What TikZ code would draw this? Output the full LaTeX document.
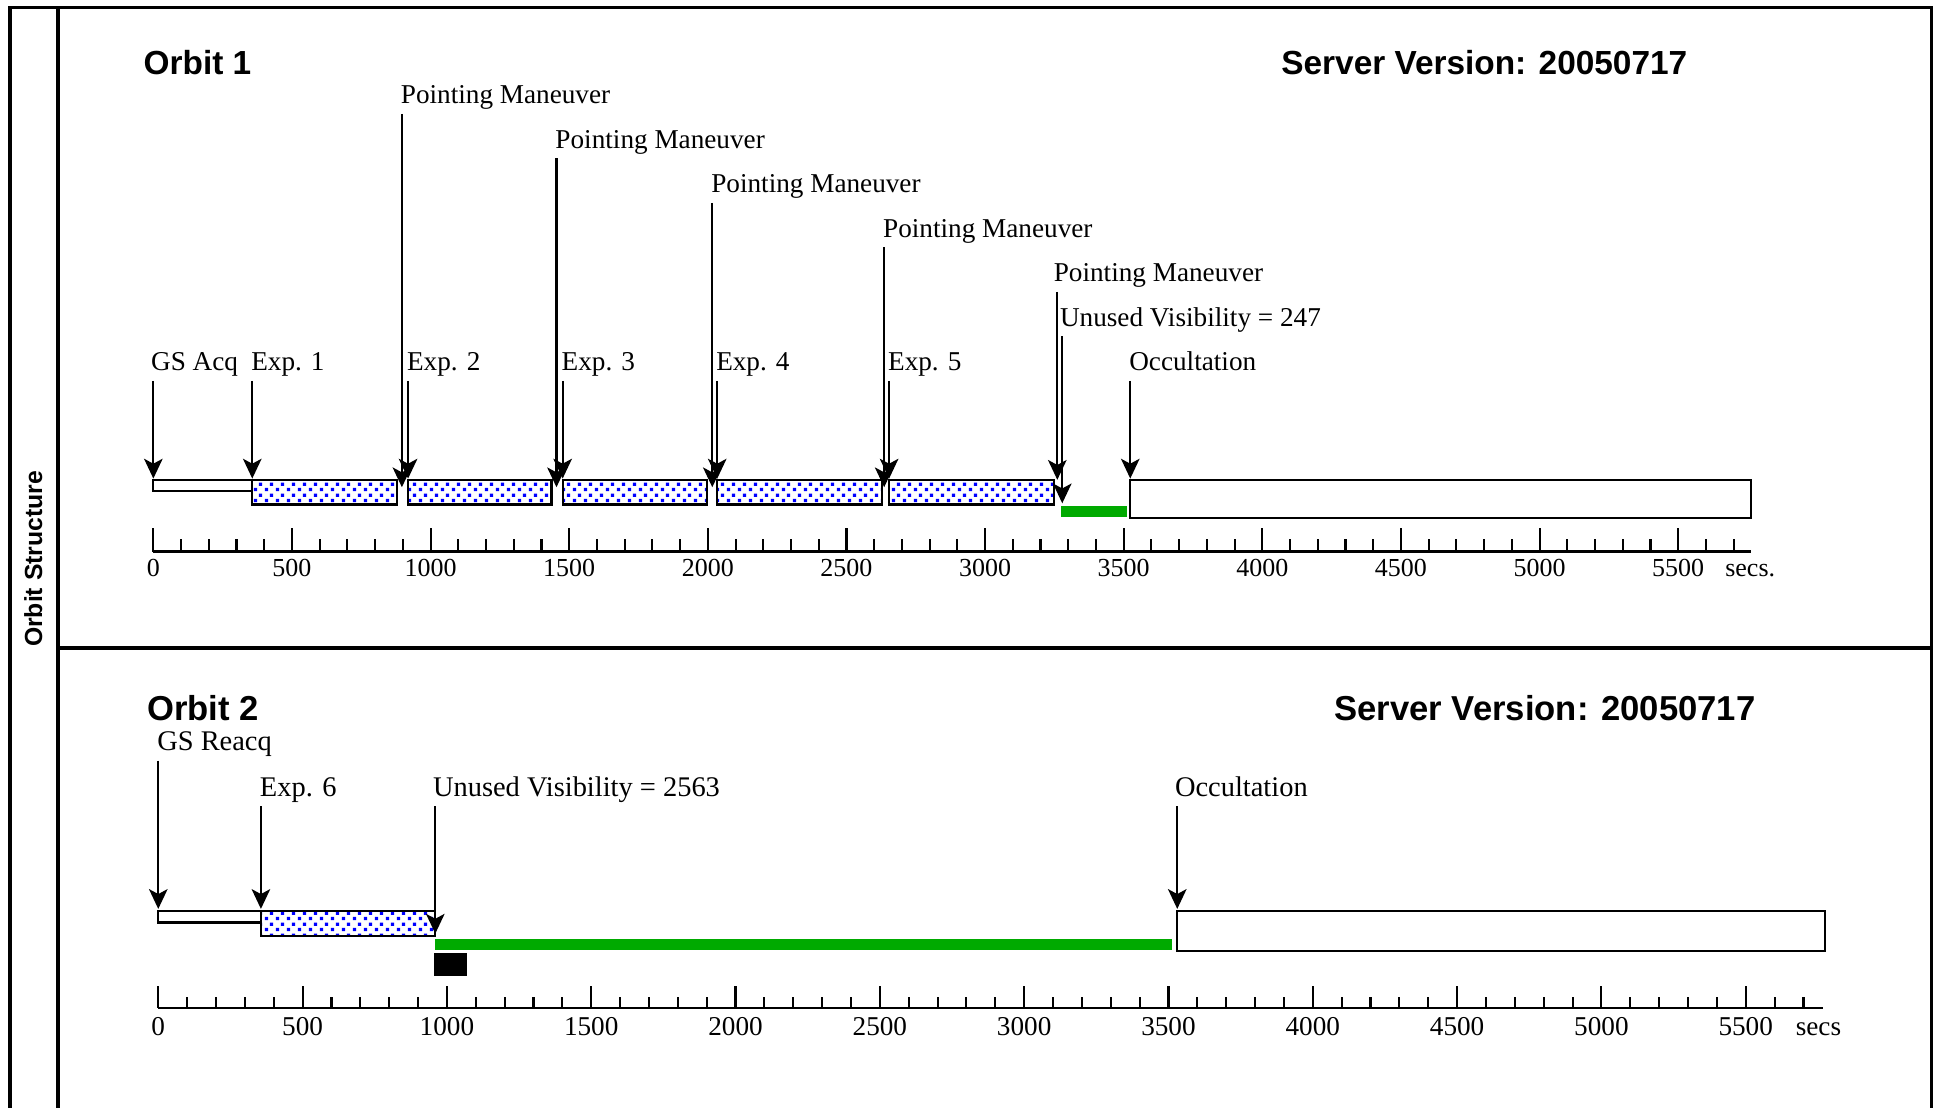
\documentclass[tikz,border=0pt]{standalone}
\usepackage{fontspec}
\setmainfont{Liberation Serif}
\newfontfamily\headfont{Liberation Sans}
\usetikzlibrary{patterns,arrows.meta,calc}
\definecolor{visgreen}{RGB}{0,170,0}
\definecolor{dotblue}{RGB}{0,0,255}
\pgfdeclarepatternformonly{bluedots}{\pgfqpoint{0pt}{0pt}}{\pgfqpoint{8.9pt}{8.9pt}}{\pgfqpoint{8.9pt}{8.9pt}}{%
  \pgfpathrectangle{\pgfqpoint{0.8pt}{0.8pt}}{\pgfqpoint{2.8pt}{2.8pt}}%
  \pgfpathrectangle{\pgfqpoint{5.25pt}{5.25pt}}{\pgfqpoint{2.8pt}{2.8pt}}%
  \pgfusepath{fill}}
\begin{document}
\begin{tikzpicture}[x=1pt,y=-1pt,
  lbl/.style={anchor=base west, inner sep=0pt, font=\fontsize{22}{24}\selectfont},
  lbltwo/.style={anchor=base west, inner sep=0pt, font=\fontsize{23}{25}\selectfont},
  ttl/.style={anchor=base west, inner sep=0pt, font=\headfont\bfseries\fontsize{27}{29}\selectfont},
  ttltwo/.style={anchor=base west, inner sep=0pt, font=\headfont\bfseries\fontsize{28}{30}\selectfont},
  num/.style={anchor=base, inner sep=0pt, font=\fontsize{21}{23}\selectfont},
  numtwo/.style={anchor=base, inner sep=0pt, font=\fontsize{22}{24}\selectfont},
  arr/.style={line width=1.7pt, -{Stealth[length=16pt,width=15pt,inset=4pt]}},
  bar/.style={draw, line width=1.7pt, fill=white},
  expbar/.style={draw, line width=1.7pt, pattern=bluedots, pattern color=dotblue},
  axisl/.style={line width=1.7pt},
  frame/.style={line width=3pt}]
\useasboundingbox (0,0) rectangle (1568,896);
\fill[white] (0,0) rectangle (1568,896);
% frame
\draw[frame] (8,896) -- (8,6) -- (1562,6) -- (1562,896);
\draw[frame] (47,6) -- (47,896);
\draw[frame] (47,524) -- (1562,524);
\node[rotate=90, inner sep=0pt, font=\headfont\bfseries\fontsize{20}{22}\selectfont] (side) at (27,452) {Orbit Structure};

% ===== Orbit 1 =====
\node[ttl] (o1) at (116,60) {Orbit 1};
\node[ttl] (sv1) at (1036,60) {Server Version: 20050717};
% bars
\draw[bar] (124,388) rectangle (204,397);
\draw[expbar] (204,388) rectangle (321,408);
\draw[expbar] (330,388) rectangle (446,408);
\draw[expbar] (455,388) rectangle (572,408);
\draw[expbar] (580,388) rectangle (713,408);
\draw[expbar] (719,388) rectangle (852,408);
\fill[visgreen] (858,409) rectangle (911,418);
\draw[bar] (914,388) rectangle (1416,419);
% axis
\draw[axisl] (124,446) -- (1416,446);
\foreach \t in {0,100,...,5700} \draw[axisl] ({124+0.2242*\t},446) -- ({124+0.2242*\t},436);
\foreach \t in {0,500,...,5500} {
  \draw[axisl] ({124+0.2242*\t},446) -- ({124+0.2242*\t},427);
  \node[num] (a1n\t) at ({124+0.2242*\t},466) {\t};
}
\node[num, anchor=base west] (secs1) at (1395,466) {secs.};
% labels
\node[lbl] (pm1) at (324,84) {Pointing Maneuver};
\node[lbl] (pm2) at (449,120) {Pointing Maneuver};
\node[lbl] (pm3) at (575,156) {Pointing Maneuver};
\node[lbl] (pm4) at (714,192) {Pointing Maneuver};
\node[lbl] (pm5) at (852,228) {Pointing Maneuver};
\node[lbl] (uv1) at (857,264) {Unused Visibility = 247};
\node[lbl] (gs1) at (122,300) {GS Acq};
\node[lbl] (e1) at (203,300) {Exp. 1};
\node[lbl] (e2) at (329,300) {Exp. 2};
\node[lbl] (e3) at (454,300) {Exp. 3};
\node[lbl] (e4) at (579,300) {Exp. 4};
\node[lbl] (e5) at (718,300) {Exp. 5};
\node[lbl] (oc1) at (913,300) {Occultation};
% tips
\coordinate (tgs1) at (124,387);
\coordinate (te1) at (204,387);
\coordinate (tpm1) at (325,394);
\coordinate (te2) at (330,387);
\coordinate (tpm2) at (450,394);
\coordinate (te3) at (455,387);
\coordinate (tpm3) at (576,394);
\coordinate (te4) at (580,387);
\coordinate (tpm4) at (715,394);
\coordinate (te5) at (719,387);
\coordinate (tpm5) at (855,388);
\coordinate (tuv1) at (859,407);
\coordinate (toc1) at (914,387);
\foreach \l/\t in {gs1/tgs1,e1/te1,pm1/tpm1,e2/te2,pm2/tpm2,e3/te3,pm3/tpm3,e4/te4,pm4/tpm4,e5/te5,pm5/tpm5,uv1/tuv1,oc1/toc1}
  \draw[arr] ($(\t |- \l.base)+(0,8)$) -- (\t);

% ===== Orbit 2 =====
\node[ttltwo] (o2) at (119,583) {Orbit 2};
\node[ttltwo] (sv2) at (1079,583) {Server Version: 20050717};
\draw[bar] (128,737) rectangle (211,746);
\draw[expbar] (211,737) rectangle (352,757);
\fill[visgreen] (352,759) rectangle (948,768);
\fill[black] (351,771) rectangle (378,789);
\draw[bar] (952,737) rectangle (1476,769);
% axis
\draw[axisl] (128,815) -- (1474,815);
\foreach \t in {0,100,...,5700} \draw[axisl] ({128+0.2334*\t},815) -- ({128+0.2334*\t},806);
\foreach \t in {0,500,...,5500} {
  \draw[axisl] ({128+0.2334*\t},815) -- ({128+0.2334*\t},797);
  \node[numtwo] (a2n\t) at ({128+0.2334*\t},837) {\t};
}
\node[numtwo, anchor=base west] (secs2) at (1452,837) {secs};
% labels
\node[lbltwo] (gs2) at (127,607) {GS Reacq};
\node[lbltwo] (e6) at (210,644) {Exp. 6};
\node[lbltwo] (uv2) at (350,644) {Unused Visibility = 2563};
\node[lbltwo] (oc2) at (950,644) {Occultation};
\coordinate (tgs2) at (128,735);
\coordinate (te6) at (211,735);
\coordinate (tuv2) at (352,755);
\coordinate (toc2) at (952,735);
\foreach \l/\t in {gs2/tgs2,e6/te6,uv2/tuv2,oc2/toc2}
  \draw[arr] ($(\t |- \l.base)+(0,8)$) -- (\t);
\end{tikzpicture}
\end{document}
